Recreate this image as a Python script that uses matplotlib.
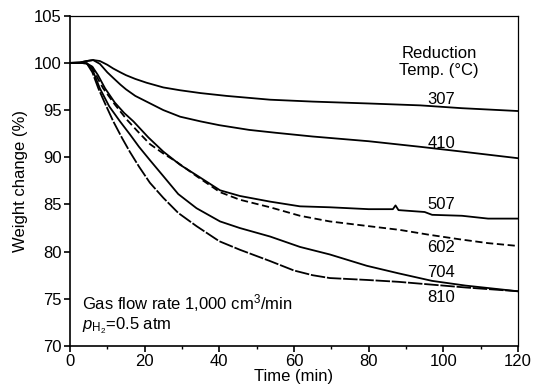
import numpy as np
import matplotlib
matplotlib.use("Agg")
import matplotlib.pyplot as plt

plt.rcParams['font.family'] = ['Liberation Sans', 'DejaVu Sans']
plt.rcParams['mathtext.fontset'] = 'custom'
plt.rcParams['mathtext.rm'] = 'Liberation Sans'
plt.rcParams['mathtext.it'] = 'Liberation Sans:italic'
plt.rcParams['font.size'] = 12

# weight change curves, one per reduction temperature
t_307 = [0, 2.7, 4.5, 6.2, 8, 10, 11.6, 13.5, 15, 17.5, 20.5, 25, 29.5, 35, 42, 53.6, 65, 80, 93.8, 105, 120]
w_307 = [100, 100.05, 100.2, 100.3, 100.2, 99.8, 99.4, 99.0, 98.7, 98.3, 97.9, 97.4, 97.1, 96.8, 96.5, 96.1, 95.9, 95.7, 95.5, 95.2, 94.9]

t_410 = [0, 2.7, 4.5, 6.2, 8, 10, 11.6, 13.5, 15, 17.5, 20.5, 25, 29.5, 35, 40, 48, 55, 65, 80, 94, 105, 120]
w_410 = [100, 100.05, 100.2, 100.3, 99.9, 99.0, 98.4, 97.7, 97.2, 96.5, 95.9, 95.0, 94.3, 93.8, 93.4, 92.9, 92.6, 92.2, 91.7, 91.1, 90.6, 89.9]

t_507 = [0, 2.7, 4.5, 6, 7.5, 9.4, 12, 14.5, 17, 21, 25, 29.5, 33.9, 40.2, 45.5, 53.6, 61.6, 69.6, 80, 86.5, 87.2, 88, 95, 97, 105, 112, 120]
w_507 = [100, 100, 99.95, 99.6, 98.7, 97.3, 95.8, 94.7, 93.8, 92.1, 90.6, 89.2, 88.1, 86.5, 85.9, 85.3, 84.8, 84.7, 84.5, 84.5, 84.9, 84.4, 84.2, 83.9, 83.8, 83.5, 83.5]

t_602 = [0, 2.7, 4.5, 6, 7.5, 8.9, 12, 15.2, 18, 21.4, 25, 28.6, 33.9, 40.2, 45.5, 53.6, 61.6, 69.6, 80, 88.4, 96, 104.5, 112, 120]
w_602 = [100, 100, 99.95, 99.5, 98.3, 97.3, 95.6, 94.0, 92.8, 91.4, 90.4, 89.5, 88.0, 86.3, 85.5, 84.7, 83.8, 83.2, 82.7, 82.3, 81.8, 81.3, 80.9, 80.6]

t_704 = [0, 2.7, 4.5, 6, 8, 10.5, 13.4, 16.1, 18.5, 21.4, 25, 29, 33.9, 40.2, 45.5, 53.6, 61.6, 69.6, 79.5, 88, 97, 106, 113, 120]
w_704 = [100, 100, 99.95, 99.3, 97.3, 95.4, 93.8, 92.4, 91.1, 89.7, 88.0, 86.1, 84.6, 83.2, 82.5, 81.6, 80.5, 79.7, 78.5, 77.7, 76.9, 76.4, 76.1, 75.8]

t_810 = [0, 2.7, 4.5, 6, 7.6, 9.5, 11.6, 14, 16, 18.5, 21.4, 25, 29, 33.9, 40, 45.5, 53.6, 60, 65, 69.6, 79.5, 88, 97, 106, 113, 120]
w_810 = [100, 100, 99.95, 99.0, 97.3, 95.6, 93.8, 92.0, 90.6, 89.0, 87.3, 85.7, 84.1, 82.7, 81.1, 80.2, 79.0, 78.0, 77.5, 77.2, 77.0, 76.8, 76.5, 76.2, 76.0, 75.8]

labels = ['307', '410', '507', '602', '704', '810']
label_y = [96.1, 91.5, 85.0, 80.4, 77.8, 75.1]

fig = plt.figure(figsize=(5.33, 3.91), dpi=100)
ax = fig.add_axes([0.1313, 0.1151, 0.8405, 0.8447])

lw = 1.3
ax.plot(t_307, w_307, 'k-', lw=lw)
ax.plot(t_410, w_410, 'k-', lw=lw)
ax.plot(t_507, w_507, 'k-', lw=lw)
ax.plot(t_602, w_602, 'k', lw=lw, dashes=(4, 2))
ax.plot(t_704, w_704, 'k-', lw=lw)
ax.plot(t_810, w_810, 'k', lw=lw, dashes=(8, 1))

for lab, y in zip(labels, label_y):
    ax.text(99.5, y, lab, ha='center', va='center')
ax.text(98.8, 100.1, 'Reduction\nTemp. (°C)', ha='center', va='center', linespacing=1.2)

ax.text(3.2, 74.6, 'Gas flow rate 1,000 cm$^3$/min', ha='left', va='center')
ax.text(3.2, 72.1, r'$p_{\mathrm{H_2}}$=0.5 atm', ha='left', va='center')

ax.set_xlim(0, 120)
ax.set_ylim(70, 105)
ax.set_xticks(np.arange(0, 121, 20))
ax.set_xticks(np.arange(10, 120, 20), minor=True)
ax.set_yticks(np.arange(70, 106, 5))
ax.tick_params(direction='out', length=4, width=1.2, pad=2)
ax.tick_params(which='minor', length=2.5, width=1.0)
for s in ax.spines.values():
    s.set_linewidth(1.2)
ax.spines['top'].set_linewidth(0.9)
ax.spines['right'].set_linewidth(0.9)

ax.set_xlabel('Time (min)', labelpad=0)
ax.set_ylabel('Weight change (%)', labelpad=4)

fig.savefig('out.png', dpi=100)
